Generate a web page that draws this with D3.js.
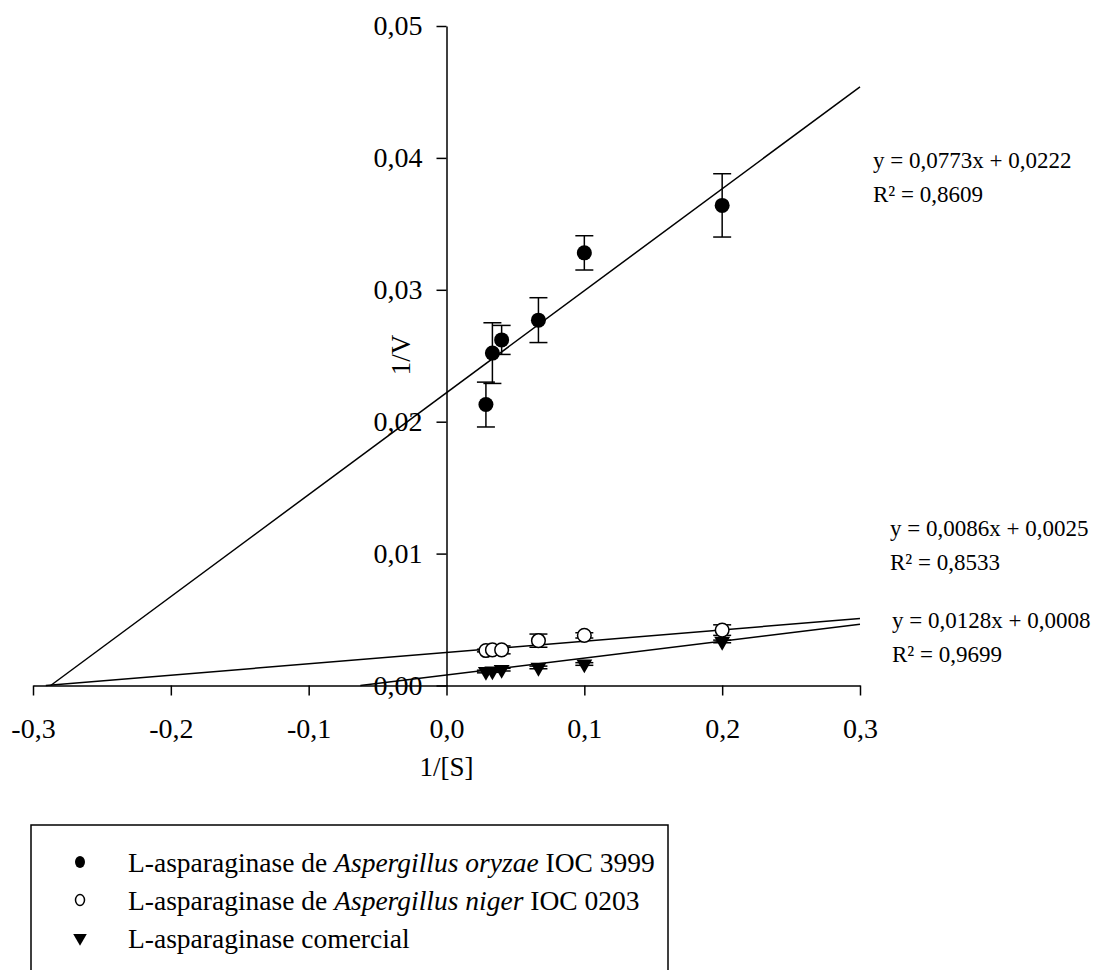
<!DOCTYPE html>
<html>
<head>
<meta charset="utf-8">
<script src="https://cdn.jsdelivr.net/npm/d3@7/dist/d3.min.js"></script>
<style>
  body { margin: 0; background: #fff; }
  text { font-family: "Liberation Serif", "Times New Roman", serif; fill: #000; }
</style>
</head>
<body>
<script>
// Data (1/[S] vs 1/V)
var invS = [0.0286, 0.0333, 0.04, 0.0667, 0.1, 0.2];

var oryzaeV = [0.0213, 0.0252, 0.0262, 0.0277, 0.0328, 0.0364];
var oryzaeErr = [0.0017, 0.0023, 0.0011, 0.0017, 0.0013, 0.0024];

var nigerV = [0.00265, 0.0027, 0.0027, 0.0034, 0.0038, 0.0042];
var nigerErr = [0.0001, 0.0002, 0.0003, 0.0005, 0.0002, 0.0004];

var comercialV = [0.00106, 0.0011, 0.0012, 0.00137, 0.00163, 0.00334];
var comercialErr = [0.0001, 0.0001, 0.0001, 0.0001, 0.0001, 0.0001];

// Trendlines: slope, intercept, equation labels
var trendSlopes = [0.0773, 0.0086, 0.0128];
var trendIntercepts = [0.0222, 0.0025, 0.0008];
var trendEq = ["y = 0,0773x + 0,0222", "y = 0,0086x + 0,0025", "y = 0,0128x + 0,0008"];
var trendR2 = ["R² = 0,8609", "R² = 0,8533", "R² = 0,9699"];

var xTicks = [-0.3, -0.2, -0.1, 0.0, 0.1, 0.2, 0.3];
var yTicks = [0, 0.01, 0.02, 0.03, 0.04, 0.05];

var legendLabels = [
    ["L-asparaginase de ", "Aspergillus oryzae", " IOC 3999"],
    ["L-asparaginase de ", "Aspergillus niger", " IOC 0203"],
    ["L-asparaginase comercial", "", ""]
];

var w = 1095, h = 970;

var svg = d3.select("body").append("svg")
    .attr("width", w)
    .attr("height", h);

var x = d3.scaleLinear().domain([-0.3, 0.3]).range([33, 860]);
var y = d3.scaleLinear().domain([0, 0.05]).range([685.5, 26]);

// decimal comma, plain hyphen for negatives
var comma = function(d, n) { return d3.format("." + n + "f")(d).replace(".", ",").replace("\u2212", "-"); };

// Axes
var xAxis = svg.append("g")
    .attr("transform", "translate(0," + y(0) + ")")
    .call(d3.axisBottom(x).tickValues(xTicks).tickSize(10).tickSizeOuter(0)
        .tickFormat(function(d) { return comma(d, 1); }));
xAxis.selectAll("text").attr("y", 52).attr("dy", 0).style("font-size", "28px");

var yAxis = svg.append("g")
    .attr("transform", "translate(" + x(0) + ",0)")
    .call(d3.axisLeft(y).tickValues(yTicks).tickSize(10).tickSizeOuter(0)
        .tickFormat(function(d) { return comma(d, 2); }));
yAxis.selectAll("text").attr("x", -24).attr("dy", "0.32em").style("font-size", "28px");

svg.selectAll(".domain, .tick line").attr("stroke", "#000").attr("stroke-width", 1.5);
svg.selectAll(".tick text").style("font-family", "Liberation Serif").attr("fill", "#000");

// Axis titles
svg.append("text")
    .attr("transform", "translate(410,355) rotate(-90)")
    .attr("text-anchor", "middle")
    .style("font-size", "27px")
    .text("1/V");

svg.append("text")
    .attr("x", x(0))
    .attr("y", 776)
    .attr("text-anchor", "middle")
    .style("font-size", "27px")
    .text("1/[S]");

// Trendlines
var lineGen = d3.line().x(function(d) { return x(d[0]); }).y(function(d) { return y(d[1]); });
trendSlopes.forEach(function(m, i) {
    var b = trendIntercepts[i];
    var x0 = Math.max(-0.3, -b / m);
    svg.append("path")
        .attr("d", lineGen([[x0, m * x0 + b], [0.3, m * 0.3 + b]]))
        .attr("fill", "none")
        .attr("stroke", "#000")
        .attr("stroke-width", 1.5);
});

// Trendline labels
var eqPos = [[873, 168, 202], [890, 536, 570], [892, 628, 662]];
trendEq.forEach(function(t, i) {
    svg.append("text").attr("x", eqPos[i][0]).attr("y", eqPos[i][1])
        .style("font-size", "23px").text(t);
    svg.append("text").attr("x", eqPos[i][0]).attr("y", eqPos[i][2])
        .style("font-size", "23px").text(trendR2[i]);
});

// Error bars
function errorBars(vals, errs) {
    var g = svg.append("g").attr("stroke", "#000").attr("stroke-width", 1.5);
    invS.forEach(function(s, i) {
        var cx = x(s), top = y(vals[i] + errs[i]), bot = y(vals[i] - errs[i]);
        g.append("line").attr("x1", cx).attr("x2", cx).attr("y1", top).attr("y2", bot);
        g.append("line").attr("x1", cx - 9).attr("x2", cx + 9).attr("y1", top).attr("y2", top);
        g.append("line").attr("x1", cx - 9).attr("x2", cx + 9).attr("y1", bot).attr("y2", bot);
    });
}
errorBars(oryzaeV, oryzaeErr);
errorBars(nigerV, nigerErr);
errorBars(comercialV, comercialErr);

// Markers
var tri = d3.symbol().type(d3.symbolTriangle).size(110);

svg.selectAll(".comercial")
    .data(comercialV)
    .enter().append("path")
    .attr("class", "comercial")
    .attr("d", tri)
    .attr("transform", function(d, i) { return "translate(" + x(invS[i]) + "," + y(d) + ") rotate(180)"; })
    .attr("fill", "#000");

svg.selectAll(".niger")
    .data(nigerV)
    .enter().append("circle")
    .attr("class", "niger")
    .attr("cx", function(d, i) { return x(invS[i]); })
    .attr("cy", function(d) { return y(d); })
    .attr("r", 6.8)
    .attr("fill", "#fff")
    .attr("stroke", "#000")
    .attr("stroke-width", 1.5);

svg.selectAll(".oryzae")
    .data(oryzaeV)
    .enter().append("circle")
    .attr("class", "oryzae")
    .attr("cx", function(d, i) { return x(invS[i]); })
    .attr("cy", function(d) { return y(d); })
    .attr("r", 7.5)
    .attr("fill", "#000");

// Legend
svg.append("rect")
    .attr("x", 31).attr("y", 825)
    .attr("width", 637).attr("height", 200)
    .attr("fill", "none")
    .attr("stroke", "#000")
    .attr("stroke-width", 1.5);

var rowY = [862, 900, 938];
svg.append("ellipse").attr("cx", 80).attr("cy", rowY[0]).attr("rx", 5).attr("ry", 6).attr("fill", "#000");
svg.append("ellipse").attr("cx", 80).attr("cy", rowY[1]).attr("rx", 4.5).attr("ry", 5.5)
    .attr("fill", "#fff").attr("stroke", "#000").attr("stroke-width", 1.5);
svg.append("path").attr("d", d3.symbol().type(d3.symbolTriangle).size(80))
    .attr("transform", "translate(80," + rowY[2] + ") rotate(180)").attr("fill", "#000");

legendLabels.forEach(function(parts, i) {
    var t = svg.append("text")
        .attr("x", 128).attr("y", rowY[i] + 10)
        .style("font-size", "27.5px");
    t.append("tspan").text(parts[0]);
    if (parts[1]) t.append("tspan").style("font-style", "italic").text(parts[1]);
    if (parts[2]) t.append("tspan").text(parts[2]);
});
</script>
</body>
</html>
